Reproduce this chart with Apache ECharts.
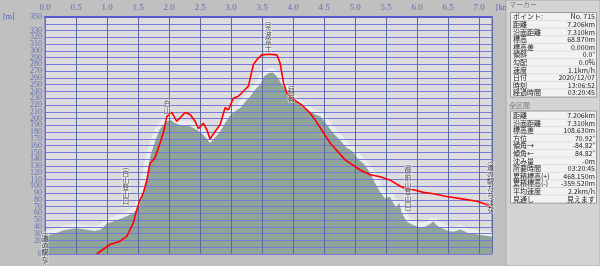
<!DOCTYPE html>
<html><head><meta charset="utf-8">
<script src="https://cdn.jsdelivr.net/npm/echarts@6/dist/echarts.min.js"></script>
<style>html,body{margin:0;padding:0;background:#c0c0c0;}#c{width:600px;height:266px;}</style>
</head><body><div id="c"></div>
<script>
// ---- data ----
const terrainKm   = [0.00,0.15,0.30,0.50,0.65,0.80,0.90,1.00,1.10,1.25,1.42,1.52,1.58,1.64,1.70,1.78,1.85,1.92,1.97,2.03,2.10,2.18,2.30,2.42,2.50,2.58,2.66,2.72,2.82,2.90,2.98,3.08,3.15,3.25,3.31,3.41,3.47,3.53,3.60,3.67,3.74,3.82,3.90,3.95,4.03,4.11,4.19,4.27,4.36,4.44,4.55,4.65,4.76,4.85,4.95,5.05,5.15,5.25,5.32,5.40,5.48,5.56,5.61,5.66,5.71,5.75,5.83,5.93,6.03,6.10,6.20,6.26,6.32,6.37,6.50,6.58,6.70,6.82,6.95,7.10,7.206];
const terrainElev = [27,30,35,38,36,34,36,45,48,53,60,70,90,115,145,168,184,192,196,198,193,190,190,185,180,173,164,170,180,193,204,212,216,227,233,245,250,262,267,268,262,250,240,233,226,220,214,210,206,203,190,178,168,158,152,140,132,118,105,92,82,85,76,68,76,61,48,43,40,39,44,48,42,39,34,33,36,31,29,27,26];
const trackKm   = [0.834,1.048,1.21,1.318,1.371,1.424,1.479,1.532,1.585,1.640,1.694,1.774,1.855,1.908,1.963,2.044,2.124,2.177,2.258,2.339,2.419,2.473,2.553,2.608,2.661,2.742,2.823,2.903,2.956,3.037,3.118,3.226,3.279,3.36,3.415,3.495,3.613,3.737,3.79,3.844,3.898,3.979,4.06,4.14,4.274,4.355,4.597,4.839,5.081,5.242,5.403,5.565,5.726,5.834,5.94,6.102,6.263,6.479,6.747,6.963,7.097,7.177,7.206];
const trackElev = [0,14,19,26,36,46,65,80,90,108,134,142,164,179,203,209,196,201,209,206,196,185,193,184,170,181,191,216,213,230,233,243,248,280,287,294,295,294,282,253,238,230,225,220,208,198,164,139,124,117,114,109,100,96,95,91,89,85,81,78,74,69,69];
const waypointNames = ['︵道の駅なら','︵白山登山口︶','︵白山','︵宗波富士','︵稲荷','︵御前山登山口︶','︵道の駅たちばな'];
const waypointKm    = [0.0,1.3,1.97,3.6,3.97,5.85,7.18];
const waypointTop   = [39,135,238,350,255,139,144];
const markerLabels = ['ポイント:','距離','沿面距離','標高','標高差','傾斜','勾配','速度','日付','時刻','経過時間'];
const markerValues = ['No. 715','7.206km','7.310km','68.870m','0.000m','0.0°','0.0%','1.1km/h','2020/12/07','13:06:52','03:20:45'];
const totalLabels  = ['距離','沿面距離','標高差','方位','傾角→','傾角←','沈み量','所要時間','累積標高(+)','累積標高(-)','平均速度','見通し'];
const totalValues  = ['7.206km','7.310km','108.630m','70.92°','-84.82°','84.82°','-0m','03:20:45','468.150m','-359.520m','2.2km/h','見えます'];

// ---- chart ----
const chart = echarts.init(document.getElementById('c'), null, {renderer:'canvas'});
const terrain = terrainKm.map((k,i)=>[k,terrainElev[i]]);
const track = trackKm.map((k,i)=>[k,trackElev[i]]);
const wps = waypointKm.map((k,i)=>({name:waypointNames[i], value:[k,waypointTop[i]]}));

const jp = '"Noto Sans CJK JP", sans-serif';
const graphics = [];
graphics.push({type:'rect', shape:{x:506,y:0,width:94,height:266}, style:{fill:'#d4d4d4', stroke:'#a8a8a8', lineWidth:1}, z:10});
graphics.push({type:'text', style:{x:509,y:1,text:'マーカー',fill:'#7a7a7a',font:'7px '+jp}, z:11});
function table(top, labels, values){
  const rh = 7.6;
  graphics.push({type:'rect', shape:{x:510.5,y:top,width:86,height:labels.length*rh+1}, style:{fill:'#f2f2f2', stroke:'#9a9a9a', lineWidth:1}, z:11});
  labels.forEach((l,i)=>{
    const y = top + 0.5 + i*rh;
    if(i>0) graphics.push({type:'line', shape:{x1:511,y1:y,x2:596,y2:y}, style:{stroke:'#d0d0d0',lineWidth:0.6}, z:12});
    graphics.push({type:'text', style:{x:513,y:y+0.3,text:l,fill:'#202020',font:'7px '+jp}, z:13});
    graphics.push({type:'text', style:{x:595,y:y+0.3,text:values[i],fill:'#202020',font:'7px '+jp,align:'right'}, z:13});
  });
}
table(12.5, markerLabels, markerValues);
graphics.push({type:'text', style:{x:509,y:102,text:'全区間',fill:'#7a7a7a',font:'7px '+jp}, z:11});
table(111, totalLabels, totalValues);
graphics.push({type:'text', style:{x:3,y:13,text:'[m]',fill:'#5060b0',font:'8px "Liberation Serif"'}, z:11});
graphics.push({type:'text', style:{x:496,y:4,text:'[km]',fill:'#5060b0',font:'8px "Liberation Serif"'}, z:9});

chart.setOption({
  animation:false,
  backgroundColor:'#c0c0c0',
  grid:{left:45,right:108,top:17,bottom:12,show:true,backgroundColor:'#dddddd',borderColor:'#6a6ad8',borderWidth:1},
  xAxis:{type:'value',position:'top',min:0,max:7.206,interval:0.5,z:3,
    axisLine:{show:true,onZero:false,lineStyle:{color:'#5a5ad0',width:2}},axisTick:{show:false},
    axisLabel:{color:'#6070b0',fontFamily:'Liberation Serif',fontSize:9,margin:5,showMaxLabel:false,formatter:v=>v.toFixed(1)},
    splitLine:{show:true,lineStyle:{color:'#5c6a9c',width:1}}},
  yAxis:{type:'value',min:0,max:350,interval:10,z:3,
    axisLine:{show:true,onZero:false,lineStyle:{color:'#6a6ad8'}},axisTick:{show:false},
    axisLabel:{color:'#6070b0',fontFamily:'Liberation Serif',fontSize:8,margin:3,lineHeight:7,showMinLabel:true,showMaxLabel:true,hideOverlap:false},
    splitLine:{show:true,lineStyle:{color:'#7878dc',width:1}}},
  series:[
    {type:'line',data:terrain,showSymbol:false,z:1,lineStyle:{color:'#eceeed',width:9},silent:true},
    {type:'line',data:terrain,showSymbol:false,z:2,lineStyle:{width:0},areaStyle:{color:'#8fa597',opacity:1},silent:true},
    {type:'line',data:track,showSymbol:false,z:5,lineStyle:{color:'#ff0000',width:1.6},clip:true},
    {type:'scatter',data:wps,symbolSize:0,z:6,clip:false,
      label:{show:true,position:'bottom',distance:0,color:'#101010',fontFamily:'Noto Sans CJK JP',fontSize:7,lineHeight:7,
        textBorderColor:'rgba(255,255,255,0.6)',textBorderWidth:1.5,
        formatter:p=>p.name.split('').join('\n')}}
  ],
  graphic:graphics
});
</script></body></html>
